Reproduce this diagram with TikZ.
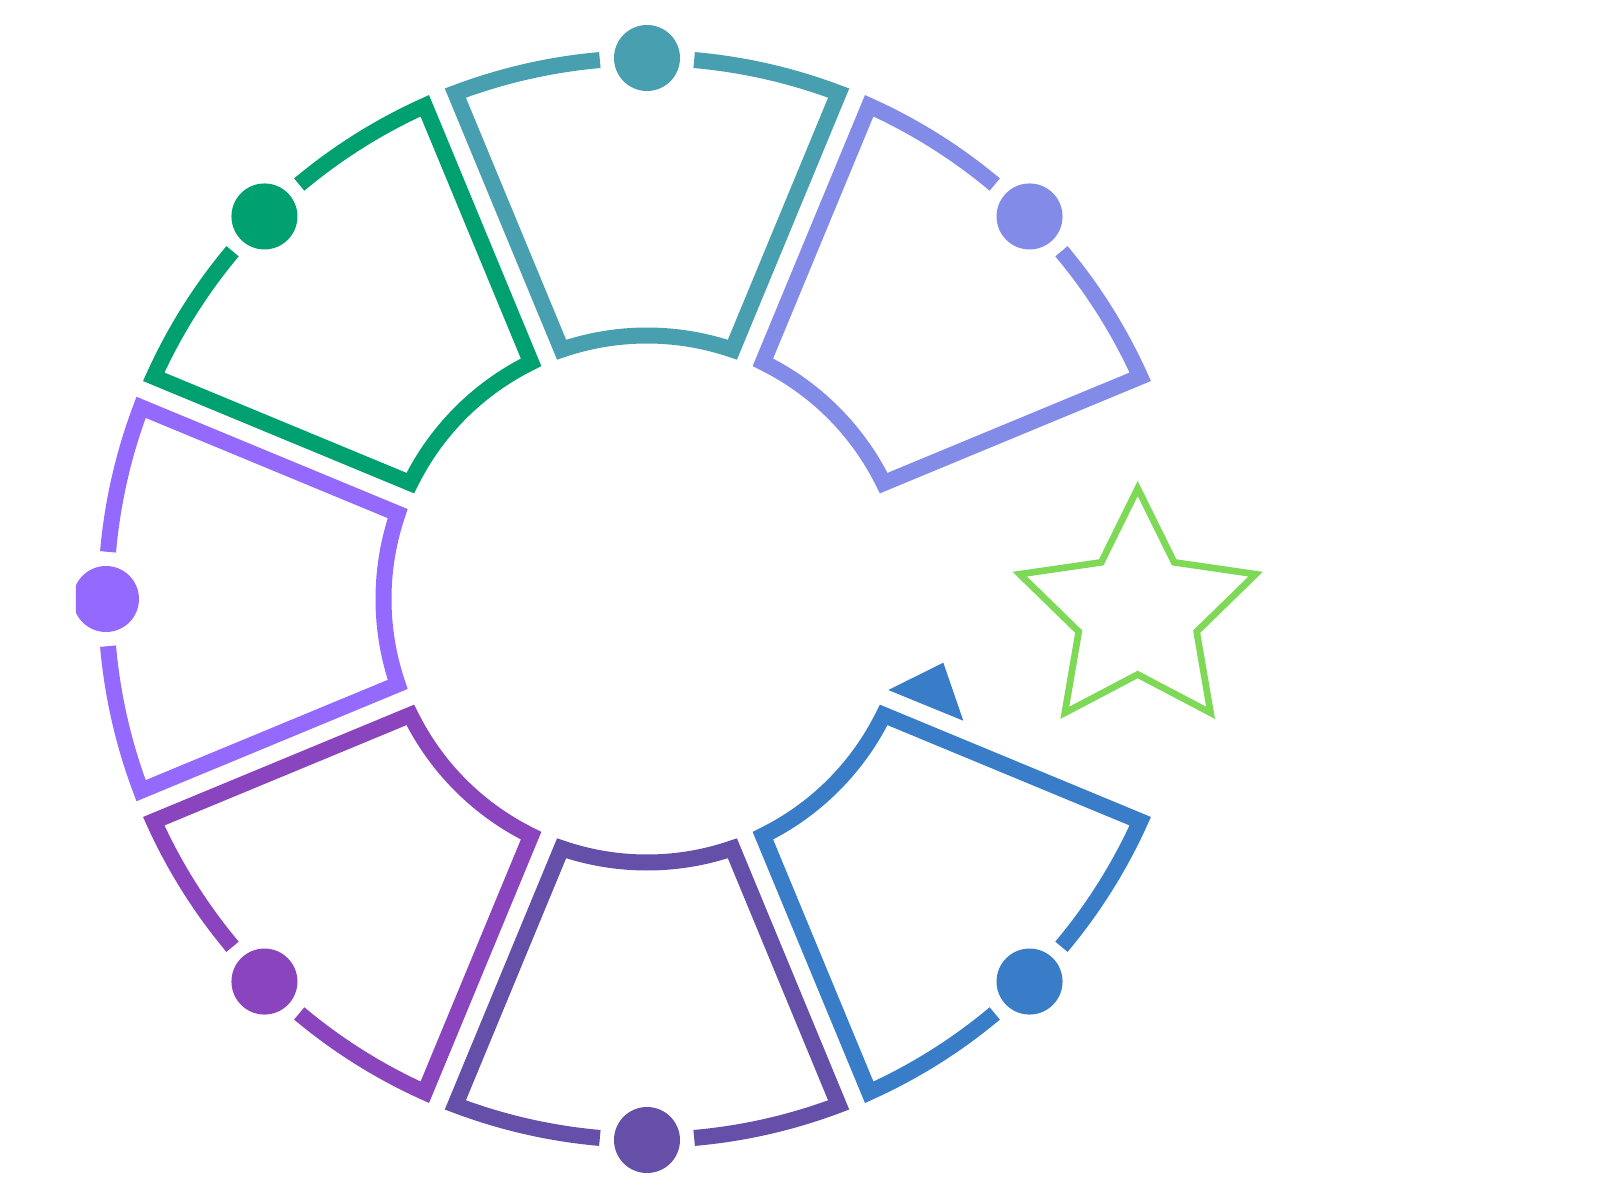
\documentclass[tikz,border=0pt]{standalone}
\definecolor{segperi}{HTML}{838BE8}
\definecolor{segteal}{HTML}{489FAF}
\definecolor{seggreen}{HTML}{00A070}
\definecolor{segviolet}{HTML}{9369FE}
\definecolor{segpurple}{HTML}{8A45BE}
\definecolor{segindigo}{HTML}{654FA8}
\definecolor{segblue}{HTML}{397CC7}
\definecolor{starcol}{HTML}{7ED957}

\begin{document}
\begin{tikzpicture}[x=0.5pt,y=0.5pt,
  seg/.style={line width=8pt,miter limit=10},
  starline/.style={line width=3.35pt,starcol,miter limit=10}]
\useasboundingbox (-647,-601) rectangle (973,599);
\clip (-571,-601) rectangle (973,599);
%\draw[step=50,gray,very thin] (-600,-600) grid (950,600); %background grid
\foreach \ang/\col in {45/segperi,90/segteal,135/seggreen,180/segviolet,225/segpurple,270/segindigo,315/segblue}{
  \draw[seg,\col] (\ang+5:541) arc[start angle=\ang+5,end angle=\ang+20.75,radius=541]
    -- (\ang+18.91:263.5) arc[start angle=\ang+18.91,end angle=\ang-18.91,radius=263.5]
    -- (\ang-20.75:541) arc[start angle=\ang-20.75,end angle=\ang-5,radius=541];
  \fill[\col] (\ang:541) circle (33);
}
\fill[segblue] (241.3,-91) -- (296.3,-63.7) -- (316.3,-121.7) -- cycle;
\begin{scope}[shift={(490.7,-13.5)}]
\draw[starline] (90:124) -- (126:62) -- (162:124) -- (198:62) -- (234:124) -- (270:62)
  -- (306:124) -- (342:62) -- (18:124) -- (54:62) -- cycle;
\end{scope}
\end{tikzpicture}
\end{document}
